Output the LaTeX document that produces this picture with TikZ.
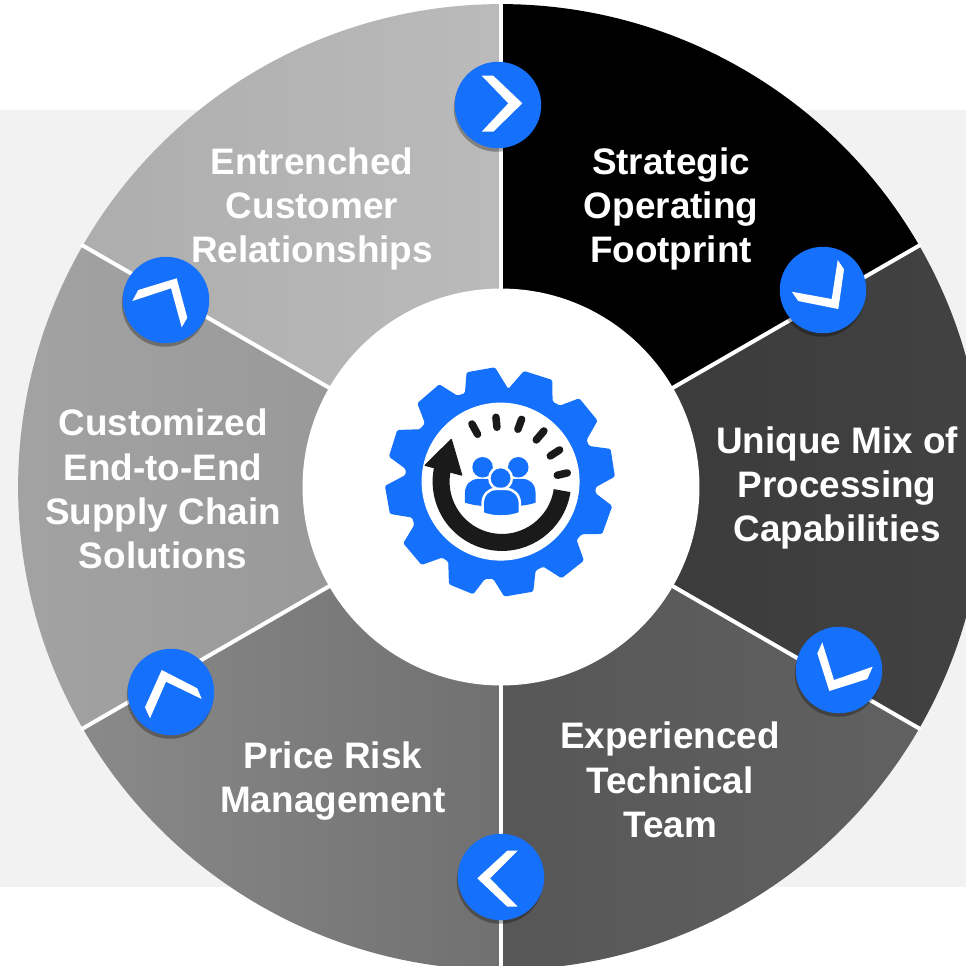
\documentclass[tikz,border=0pt]{standalone}
\usepackage{fontspec}
\setmainfont{Liberation Sans}
\usetikzlibrary{shadows}
\definecolor{badgeblue}{HTML}{1571FB}
\definecolor{dialblack}{HTML}{1A1A1A}
\definecolor{bandgray}{HTML}{F2F2F2}
\tikzset{
  label/.style={text=white,font=\bfseries\fontsize{21}{25.2}\selectfont,align=center},
  badge/.style={circle,fill=badgeblue,minimum size=1.73cm,inner sep=0pt,
    drop shadow={shadow xshift=-0.02cm,shadow yshift=-0.07cm,opacity=0.3,fill=black}},
  chevron/.style={fill=white},
  person/.style={fill=badgeblue,draw=white,line width=0.05cm}
}
\begin{document}
\begin{tikzpicture}[x=0.02cm,y=-0.02cm]
  \useasboundingbox (0,0) rectangle (966,965);
  \clip (0,0) rectangle (966,965);
  \fill[bandgray] (0,110) rectangle (966,887);
  \coordinate (center) at (501,487);

  % wedges, counterclockwise from the black one
  \foreach \a/\cola/\colb in {30/black/black,-30/black!78/black!74,-90/black!66/black!62,
      -150/black!46/black!56,150/black!36/black!42,90/black!32/black!27}{
    \shade[left color=\cola,right color=\colb] (center) -- +(\a:9.66cm)
      arc[start angle=\a,end angle=\a+60,radius=9.66cm] -- cycle;
  }
  \foreach \a in {30,90,...,330}
    \draw[white,line width=0.08cm] (center) -- +(\a:9.7cm);

  \node[circle,fill=white,minimum size=7.94cm,inner sep=0pt] (hub) at (center) {};

  % gear, traced in units of a third of a pixel
  \begin{scope}[xshift=7.4cm,yshift=-7cm,x=0.006667cm,y=-0.006667cm]
    \fill[badgeblue,rounded corners=0.03cm] (290,67) -- (375,52) -- (415,117) -- (462,63) -- (547,90)
      -- (548,155) -- (570,167) -- (628,145) -- (683,212) -- (650,270) -- (657,288) -- (722,297)
      -- (735,380) -- (677,412) -- (677,430) -- (727,468) -- (697,552) -- (635,553) -- (620,570)
      -- (642,632) -- (575,685) -- (520,650) -- (497,662) -- (490,725) -- (403,740) -- (370,687)
      -- (345,687) -- (310,733) -- (237,703) -- (235,635) -- (217,623) -- (155,645) -- (100,580)
      -- (133,525) -- (127,503) -- (60,492) -- (45,408) -- (107,375) -- (107,357) -- (57,320)
      -- (82,240) -- (150,238) -- (165,220) -- (142,160) -- (208,103) -- (262,137) -- (285,130) -- cycle;
    \fill[white] (392,395) circle[radius=1.58cm];

    % dial ticks
    \foreach \xa/\ya/\xb/\yb in {306/222/323/253,378/202/381/232,455/208/444/238,
        522/243/499/270,569/300/541/318,592/369/562/376}
      \draw[dialblack,line width=0.15cm,line cap=round] (\xa,\ya) -- (\xb,\yb);

    % arrow round the team
    \coordinate (dial) at (396,395);
    \draw[dialblack,line width=0.34cm] ([shift={(-8.5:1.217cm)}]dial)
      arc[start angle=-8.5,end angle=-192,radius=1.217cm];
    \fill[dialblack,rounded corners=0.02cm] (162,347) -- (245,265) -- (278,378) -- cycle;

    % team
    \fill[person,draw=none] (338,352) circle[radius=0.205cm];
    \fill[person,draw=none] (445,352) circle[radius=0.205cm];
    \fill[person,draw=none] (285,458) -- (285,430) .. controls (285,403) and (303,387) .. (325,387)
      -- (458,387) .. controls (480,387) and (497,403) .. (497,430) -- (497,458)
      .. controls (470,468) and (430,470) .. (392,470) .. controls (350,470) and (315,468) .. (285,458) -- cycle;
    \draw[person] (392,385) circle[radius=0.225cm];
    \draw[person] (338,490) -- (338,462) .. controls (338,435) and (355,417) .. (378,417)
      -- (408,417) .. controls (432,417) and (450,435) .. (450,462) -- (450,490)
      .. controls (415,503) and (370,503) .. (338,490) -- cycle;
  \end{scope}

  % badges
  \node[badge] (badgeA) at (498,105) {};
  \node[badge] (badgeB) at (823,290) {};
  \node[badge] (badgeC) at (839,670) {};
  \node[badge] (badgeD) at (501,877) {};
  \node[badge] (badgeE) at (171,692) {};
  \node[badge] (badgeF) at (166,300) {};

  \fill[chevron] (481.7,75.7) -- (493.3,75.7) -- (522.3,103.3) -- (493.3,131.7) -- (481.7,131.7) -- (508.3,103.3) -- cycle;
  \fill[chevron] (837.7,260) -- (844,269.3) -- (838.3,309) -- (798.3,301) -- (791.7,291.7) -- (831.7,299) -- cycle;
  \fill[chevron] (822.3,642.3) -- (817.3,653.3) -- (829.3,691) -- (867.3,679) -- (872.7,666.7) -- (834,680) -- cycle;
  \fill[chevron] (517.7,850.7) -- (507.3,850.7) -- (477.3,878.3) -- (507.3,906.7) -- (517.7,906.7) -- (490,878.3) -- cycle;
  \fill[chevron] (150,718.3) -- (145,707.3) -- (161.7,670) -- (197.3,688.3) -- (201.7,699) -- (166,681.7) -- cycle;
  \fill[chevron] (132.3,301) -- (138.3,290) -- (176.7,278.3) -- (187.3,317.7) -- (181.7,327.3) -- (171,288.3) -- cycle;

  % labels
  \node[label] (footprint) at (671,209) {Strategic\\Operating\\Footprint};
  \node[label] (processing) at (837,488) {Unique Mix of\\Processing\\Capabilities};
  \node[label] (team) at (670,780) {Experienced\\Technical\\Team};
  \node[label] (risk) at (333,781) {Price Risk\\Management};
  \node[label] (solutions) at (163,489) {Customized\\End-to-End\\Supply Chain\\Solutions};
  \node[label] (relations) at (312,209) {Entrenched\\Customer\\Relationships};
\end{tikzpicture}
\end{document}
